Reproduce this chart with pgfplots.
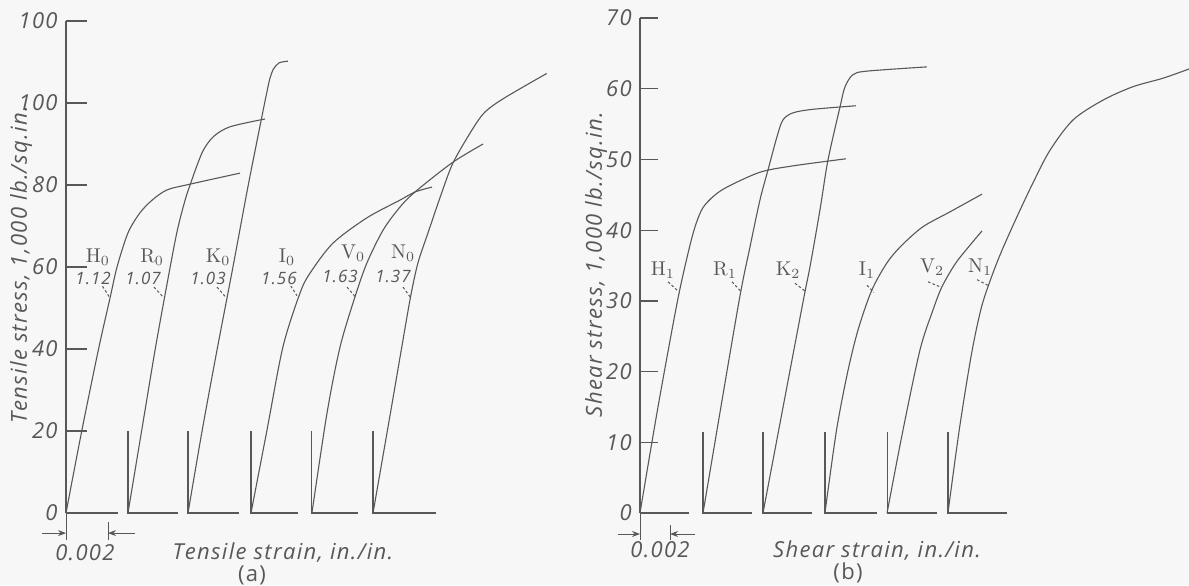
\documentclass[border=0pt]{standalone}
\usepackage{pgfplots}
\pgfplotsset{compat=1.18}
\usetikzlibrary{arrows.meta}
\usepackage{fontspec}
\newfontfamily\lett[LetterSpace=6]{Open Sans}
\definecolor{ink}{RGB}{88,88,88}
\definecolor{paper}{RGB}{247,247,247}

\newcommand\numfont{\lett\itshape\fontsize{11}{11}\selectfont}
\newcommand\tagfont{\fontsize{10}{10}\selectfont}
\newcommand\valfont{\lett\itshape\fontsize{8.5}{8.5}\selectfont}

\tikzset{
  leader/.style={draw=ink, line width=0.5pt, dash pattern=on 1.3pt off 1.1pt},
  scalebar/.style={draw=ink, line width=0.5pt},
}
\pgfplotsset{
  stressaxis/.style={
    axis x line=none, axis y line=left,
    y axis line style={-, draw=ink, line width=0.6pt},
    enlargelimits=false, xmin=0, ymin=0, xtick=\empty,
    tick align=inside, tick style={draw=ink, line width=0.6pt},
    yticklabel style={font=\lett\fontsize{11}{11}\selectfont, text=ink},
    clip=false, unbounded coords=jump,
    every axis plot/.append style={draw=ink, line width=0.55pt, mark=none},
  },
  curve/.style={smooth, tension=0.5},
  base/.style={draw=ink, mark=none},
}

\begin{document}
\begin{tikzpicture}
\path[use as bounding box, fill=paper] (0,0) rectangle (594.5pt,292.5pt);

% ---------------- (a) tensile ----------------
\begin{axis}[stressaxis,
  at={(33pt,36pt)}, anchor=south west,
  x=10.5pt, y=2.05pt, xmax=23.5, ymax=120,
  ytick={0,20,40,60,80,100,120},
  yticklabels={\textit{0},\textit{20},\textit{40},\textit{60},\textit{80},\textit{100},\textit{100}},
  major tick length=10.5pt]
% offset origins with their 20 ksi reference stubs
\addplot[base] coordinates {(0,0)(2.48,0) (nan,nan)
  (2.95,20)(2.95,0)(5.33,0) (nan,nan)
  (5.81,20)(5.81,0)(8.24,0) (nan,nan)
  (8.81,20)(8.81,0)(11.05,0) (nan,nan)
  (11.71,20)(11.71,0)(13.9,0) (nan,nan)
  (14.62,20)(14.62,0)(17.62,0)};
% H0
\addplot[curve] coordinates {(0,0)(0.75,20)(1.55,40)(2.1,52.5)(2.43,60)(2.95,68.3)(3.52,73.2)(4.10,76.3)(4.81,78.8)(5.90,80.2)(8.29,82.9)};
% R0
\addplot[curve] coordinates {(2.95,0)(3.6,20)(4.25,40)(4.78,55)(5.27,68.2)(5.67,76.3)(5.99,81.2)(6.22,84.5)(6.54,88.5)(7.02,91.8)(7.81,94.2)(9.48,96.1)};
% K0
\addplot[curve] coordinates {(5.81,0)(6.48,20)(7.2,40)(7.95,60)(8.68,80)(9.38,98)(9.56,102.5)(9.7,105.8)(9.88,108.3)(10.15,109.8)(10.57,110.2)};
% I0
\addplot[curve] coordinates {(8.81,0)(9.57,20.2)(10.33,40.5)(11.14,53.6)(11.62,58.5)(12.71,65.8)(14.33,72)(15.9,76.3)(16.62,78.3)(17.43,79.5)};
% V0
\addplot[curve] coordinates {(11.71,0)(12.43,24.4)(13.05,40.5)(13.76,52.7)(14.33,61)(15.1,69)(15.9,74.6)(16.62,78.3)(18.38,85.4)(19.86,90)};
% N0
\addplot[curve] coordinates {(14.62,0)(15.45,24.4)(15.99,40.5)(16.41,52.8)(16.76,61)(17.25,68.5)(17.85,77.5)(18.43,85.4)(19.33,93.4)(19.95,97.8)(20.9,101.3)(22.89,107.2)};

% specimen tags and secant-modulus ratios
\node[font=\tagfont, text=ink] at (1.52,62.4) {$\mathrm{H}_0$};
\node[font=\tagfont, text=ink] at (4.10,62.4) {$\mathrm{R}_0$};
\node[font=\tagfont, text=ink] at (7.24,62.4) {$\mathrm{K}_0$};
\node[font=\tagfont, text=ink] at (10.52,62.4) {$\mathrm{I}_0$};
\node[font=\tagfont, text=ink] at (13.67,63.4) {$\mathrm{V}_0$};
\node[font=\tagfont, text=ink] at (16.05,63.4) {$\mathrm{N}_0$};
\node[font=\valfont, text=ink] at (1.29,57.3) {1.12};
\node[font=\valfont, text=ink] at (3.67,57.3) {1.07};
\node[font=\valfont, text=ink] at (6.76,57.3) {1.03};
\node[font=\valfont, text=ink] at (10.14,57.3) {1.56};
\node[font=\valfont, text=ink] at (13.05,57.6) {1.63};
\node[font=\valfont, text=ink] at (15.57,57.6) {1.37};
\draw[leader] (1.74,55.3) -- (2.10,52.4);
\draw[leader] (4.19,55.1) -- (4.62,52.7);
\draw[leader] (7.19,55.1) -- (7.60,52.7);
\draw[leader] (10.70,55.4) -- (11.0,53.0);
\draw[leader] (13.38,55.1) -- (13.80,52.6);
\draw[leader] (16.05,55.1) -- (16.40,52.6);

% strain scale
\draw[scalebar, -{Stealth[length=4pt,width=3pt]}] (-1.14,-4.9) -- (0,-4.9);
\draw[scalebar] (0,0) -- (0,-6.5);
\draw[scalebar, -{Stealth[length=4pt,width=3pt]}] (3.29,-4.9) -- (2,-4.9);
\draw[scalebar] (2,-2.2) -- (2,-6.5);
\node[font=\numfont, text=ink] at (0.9,-9.6) {0.002};
\node[font=\numfont, text=ink] at (10.33,-9.6) {Tensile strain, in./in.};
\node[font=\lett\fontsize{11}{11}\selectfont, text=ink] at (8.86,-15.2) {(a)};
\node[font=\numfont, text=ink, rotate=90] at (-2.14,60.5) {Tensile stress, 1,000 lb./sq.in.};
\end{axis}

% ---------------- (b) shear ----------------
\begin{axis}[stressaxis,
  at={(320pt,36pt)}, anchor=south west,
  x=7.5pt, y=3.535pt, xmax=36.6, ymax=70,
  ytick={0,10,...,70},
  yticklabels={\textit{0},\textit{10},\textit{20},\textit{30},\textit{40},\textit{50},\textit{60},\textit{70}},
  major tick length=9pt]
\addplot[base] coordinates {(0,0)(3.27,0) (nan,nan)
  (4.2,11.5)(4.2,0)(7.47,0) (nan,nan)
  (8.2,11.5)(8.2,0)(11.47,0) (nan,nan)
  (12.33,11.5)(12.33,0)(15.8,0) (nan,nan)
  (16.47,11.5)(16.47,0)(19.8,0) (nan,nan)
  (20.53,11.5)(20.53,0)(24.47,0)};
% H1
\addplot[curve] coordinates {(0,0)(1.2,15)(2.5,30)(3.3,37.6)(3.75,41)(4.2,43.2)(4.9,44.8)(5.8,46.1)(8,48.2)(10.2,49.1)(13.73,50.1)};
% R1
\addplot[curve] coordinates {(4.2,0)(6.53,29.1)(7.33,37.6)(8.0,44.3)(8.53,48.5)(9.13,53.2)(9.53,55.6)(10.2,56.6)(11.53,57.1)(14.4,57.6)};
% K2
\addplot[curve] coordinates {(8.2,0)(10.8,29.1)(11.33,34.8)(12.0,42.9)(12.53,49.9)(13.33,57.4)(13.67,60.3)(14.2,62)(15.13,62.5)(19.13,63.1)};
% I1
\addplot[curve] coordinates {(12.33,0)(13.1,11.7)(13.85,20)(14.55,26)(15.45,31.5)(16.47,35.4)(17.47,37.9)(18.87,40.5)(20.67,42.6)(22.8,45.1)};
% V2
\addplot[curve] coordinates {(16.47,0)(17.53,11.7)(18.67,23.1)(19.53,28.7)(20.13,32)(21.0,35.2)(21.85,37.5)(22.8,39.9)};
% N1
\addplot[curve] coordinates {(20.53,0)(21.3,12)(22.1,22.5)(22.75,29)(23.4,33.2)(24.1,37)(25.13,41.9)(26.2,46.7)(27.33,51.3)(28.87,55.6)(30.87,58.4)(32.87,60.3)(34.87,61.5)(36.6,62.8)};

\node[font=\tagfont, text=ink] at (1.53,34.4) {$\mathrm{H}_1$};
\node[font=\tagfont, text=ink] at (5.67,34.4) {$\mathrm{R}_1$};
\node[font=\tagfont, text=ink] at (9.87,34.4) {$\mathrm{K}_2$};
\node[font=\tagfont, text=ink] at (15.13,34.4) {$\mathrm{I}_1$};
\node[font=\tagfont, text=ink] at (19.47,34.8) {$\mathrm{V}_2$};
\node[font=\tagfont, text=ink] at (22.67,34.8) {$\mathrm{N}_1$};
\draw[leader] (1.87,32.7) -- (2.53,31.4);
\draw[leader] (6.13,32.7) -- (6.75,31.3);
\draw[leader] (10.33,32.5) -- (11.0,31.4);
\draw[leader] (15.13,32.2) -- (15.6,31.2);
\draw[leader] (19.2,32.7) -- (20.1,31.9);
\draw[leader] (22.47,33.0) -- (23.2,32.2);

\draw[scalebar, -{Stealth[length=4pt,width=3pt]}] (-1.47,-2.97) -- (0,-2.97);
\draw[scalebar] (0,0) -- (0,-3.8);
\draw[scalebar, -{Stealth[length=4pt,width=3pt]}] (3.67,-2.97) -- (2,-2.97);
\draw[scalebar] (2,-1.7) -- (2,-3.8);
\node[font=\numfont, text=ink] at (1.33,-5.2) {0.002};
\node[font=\numfont, text=ink] at (15.8,-5.3) {Shear strain, in./in.};
\node[font=\lett\fontsize{11}{11}\selectfont, text=ink] at (13.87,-8.5) {(b)};
\node[font=\numfont, text=ink, rotate=90] at (-2.93,35.1) {Shear stress, 1,000 lb./sq.in.};
\end{axis}
\end{tikzpicture}
\end{document}
